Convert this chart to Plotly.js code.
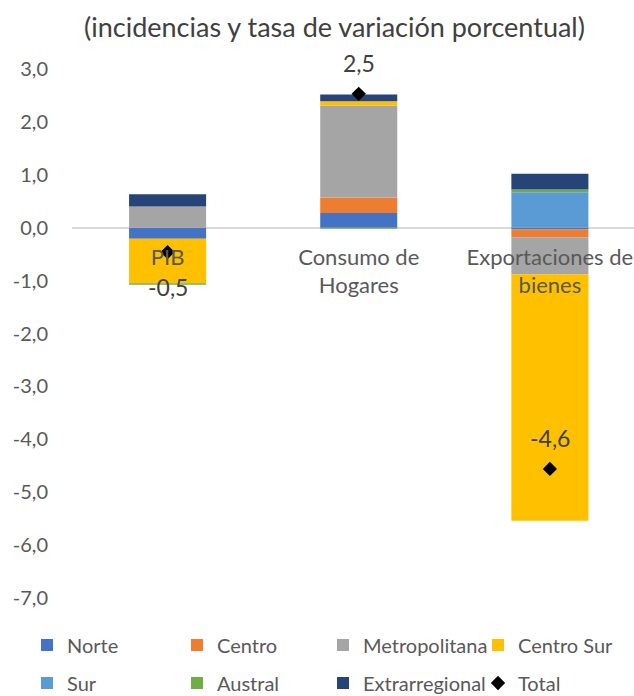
<!DOCTYPE html>
<html>
<head>
<meta charset="utf-8">
<script src="https://cdn.plot.ly/plotly-3.0.1.min.js"></script>
<style>html,body{margin:0;padding:0;background:#fff;}#chart{width:634px;height:696px;}</style>
</head>
<body>
<div id="chart"></div>
<script>
const categories = ['PIB', 'Consumo de<br>Hogares', 'Exportaciones de<br>bienes'];
const norte = [-0.21, 0.28, -0.03];
const centro = [0.00, 0.29, -0.15];
const metropolitana = [0.40, 1.74, -0.70];
const centroSur = [-0.84, 0.08, -4.66];
const sur = [0.00, 0.00, 0.67];
const austral = [-0.03, -0.02, 0.05];
const extrarregional = [0.23, 0.13, 0.30];
const total = [-0.46, 2.53, -4.56];
const yTicks = [3, 2, 1, 0, -1, -2, -3, -4, -5, -6, -7];
const yTickText = yTicks.map(v => v.toFixed(1).replace('.', ','));

const FONT = 'Lato, "Open Sans", sans-serif';
const W = 634, H = 696;
const M = {l: 72, r: 0, t: 69, b: 98};
const PW = W - M.l - M.r, PH = H - M.t - M.b;
const labelShift = [-35, 31, 31];

const series = [
  {name: 'Norte', y: norte, color: '#4472C4'},
  {name: 'Centro', y: centro, color: '#ED7D31'},
  {name: 'Metropolitana', y: metropolitana, color: '#A5A5A5'},
  {name: 'Centro Sur', y: centroSur, color: '#FFC000'},
  {name: 'Sur', y: sur, color: '#5B9BD5'},
  {name: 'Austral', y: austral, color: '#70AD47'},
  {name: 'Extrarregional', y: extrarregional, color: '#264478'}
];

// legend slots: column left pixel, row centre pixel
const colPx = [27, 177, 323, 478];
const rowPx = [645, 683];
const legendId = i => (i === 0 ? 'legend' : 'legend' + (i + 1));

const traces = series.map((s, i) => ({
  type: 'bar', name: s.name, x: categories, y: s.y, legend: legendId(i),
  marker: {color: s.color, line: {width: 0}}, hoverinfo: 'skip'
}));
traces.push({
  type: 'scatter', mode: 'markers', name: 'Total', x: categories, y: total, legend: legendId(7),
  marker: {symbol: 'diamond', size: 11, color: '#000000'}
});

const annotations = categories.map((c, i) => ({
  x: c, y: total[i], xref: 'x', yref: 'y',
  text: total[i].toFixed(1).replace('.', ','),
  showarrow: false, yshift: labelShift[i],
  font: {family: FONT, size: 23, color: '#404040'}
}));

const layout = {
  width: W, height: H,
  margin: Object.assign({autoexpand: false}, M),
  paper_bgcolor: '#ffffff', plot_bgcolor: '#ffffff',
  separators: ',.',
  barmode: 'relative', bargap: 0.597,
  title: {text: '(incidencias y tasa de variación porcentual)', xref: 'container', x: 334.5 / W, xanchor: 'center',
          yref: 'container', y: 1 - 28 / H, yanchor: 'middle',
          font: {family: FONT, size: 27, color: '#404040'}},
  xaxis: {anchor: 'free', position: 0.7, range: [-0.5, 2.44], showgrid: false, showline: false, zeroline: false,
          ticks: '', ticklabelstandoff: 14, tickfont: {family: FONT, size: 22, color: '#595959'},
          fixedrange: true},
  yaxis: {range: [-7, 3], tickmode: 'array', tickvals: yTicks, ticktext: yTickText, showgrid: false, showline: false,
          zeroline: true, zerolinecolor: '#d9d9d9', zerolinewidth: 2, ticks: '',
          ticklabelstandoff: 23, tickfont: {family: FONT, size: 20, color: '#595959'}, fixedrange: true},
  annotations: annotations,
  showlegend: true
};

for (let i = 0; i < 8; i++) {
  const col = i % 4, row = Math.floor(i / 4);
  layout[legendId(i)] = {
    orientation: 'h', xanchor: 'left', yanchor: 'middle',
    x: (colPx[col] - M.l) / PW, y: (H - M.b - rowPx[row]) / PH,
    font: {family: FONT, size: 20, color: '#595959'},
    itemwidth: 30, bgcolor: 'rgba(0,0,0,0)', borderwidth: 0
  };
}

Plotly.newPlot('chart', traces, layout, {displayModeBar: false, staticPlot: true});
</script>
</body>
</html>
